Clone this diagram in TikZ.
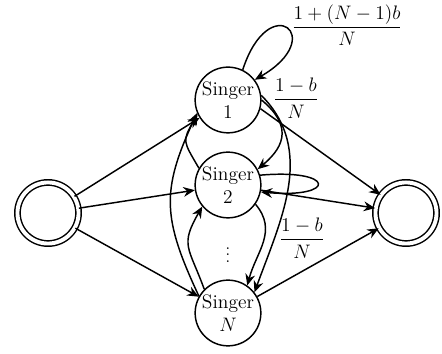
\documentclass[tikz,border=0pt]{standalone}
\usepackage{amsmath}
\usetikzlibrary{arrows.meta}

\begin{document}
\begin{tikzpicture}[x=0.0216cm, y=0.0216cm, line width=0.9pt,
		singer/.style={circle, draw, minimum size=1.42cm, inner sep=0pt, align=center, font=\large},
		ende/.style={circle, draw, double, double distance=2.4pt, minimum size=1.32cm},
		gewicht/.style={font=\large},
		pfeil/.style={-{Stealth[length=7pt, width=6pt]}}]
		\useasboundingbox (0,0) rectangle (442,354);
		
		% --- ZUSTAENDE ---
		\node[ende] (start) at (48,141) {};
		\node[singer] (s1) at (228,254) {Singer\\1};
		\node[singer] (s2) at (228,169) {Singer\\2};
		\node[inner sep=0pt] (dots) at (228,104) {$\vdots$};
		\node[singer] (sN) at (228,41) {Singer\\$N$};
		\node[ende] (ziel) at (406,141) {};
		
		% --- EINGANG / AUSGANG ---
		\draw[pfeil] (start) -- (s1);
		\draw[pfeil] (start) -- (s2);
		\draw[pfeil] (start) -- (sN);
		\draw[pfeil] (s1.-15) -- (ziel);
		\draw[pfeil] (s2) -- (ziel);
		\draw[pfeil] (sN) -- (ziel);
		
		% --- SCHLEIFEN ---
		\draw[pfeil] (s1.64) to[out=72, in=30, min distance=1.85cm] (s1.37);
		\draw[pfeil] (s2.17) to[out=5, in=-5, min distance=1.65cm] (s2.-12);
		
		% --- RECHTS: NACH UNTEN ---
		\draw[pfeil] (s1.0) to[out=-40, in=40, looseness=1.4] (s2.28);
		\draw[pfeil] (s1.8) to[out=-45, in=70] (sN.38);
		\draw[pfeil] (s2.-35) to[out=-50, in=75, looseness=1.1] (sN.55);
		
		% --- LINKS: NACH OBEN ---
		\draw[pfeil] (s2.150) to[out=120, in=-120, looseness=1.5] (s1.205);
		\draw[pfeil] (sN.150) to[out=115, in=-115, looseness=1.2] (s1.203);
		\draw[pfeil] (sN.135) to[out=110, in=-120, looseness=1.4] (s2.220);
		
		% --- GEWICHTE ---
		\node[gewicht] (p11) at (347,329) {$\dfrac{1+(N-1)b}{N}$};
		\node[gewicht] (p12) at (296,256) {$\dfrac{1-b}{N}$};
		\node[gewicht] (p2N) at (302,116) {$\dfrac{1-b}{N}$};
		
	\end{tikzpicture}
\end{document}
